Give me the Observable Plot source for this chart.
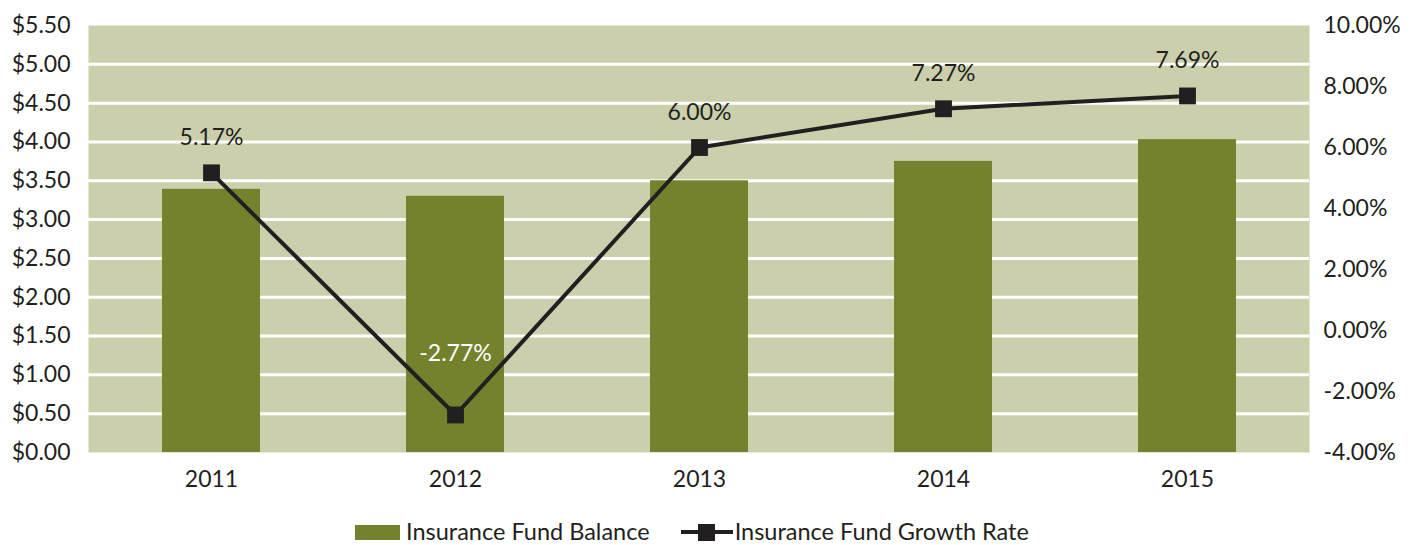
<!DOCTYPE html>
<html><head>
<meta charset="utf-8">
<script src="https://cdn.jsdelivr.net/npm/d3@7"></script>
<script src="https://cdn.jsdelivr.net/npm/@observablehq/plot@0.6"></script>
<style>
body{margin:0;background:#fff;font-family:Lato,"Open Sans",sans-serif;}
#chart svg{display:block;}
#legend{display:flex;align-items:center;height:26px;line-height:1;margin-top:27px;padding-left:355px;font-size:23.5px;color:#231F20;}
.sw{display:inline-block;}
</style>
</head><body>
<div id="chart"></div>
<div id="legend"></div>
<script>
const years = ["2011","2012","2013","2014","2015"];
const balance = [3.39, 3.30, 3.50, 3.75, 4.03];
const growth = [5.17, -2.77, 6.00, 7.27, 7.69];
const leftTicks = [0,0.5,1,1.5,2,2.5,3,3.5,4,4.5,5,5.5];
const gridTicks = [0.5,1,1.5,2,2.5,3,3.5,4,4.5,5];
const rightTicks = [-4,-2,0,2,4,6,8,10];
const seriesNames = ["Insurance Fund Balance","Insurance Fund Growth Rate"];

const pMin = -4, pMax = 10, yMax = 5.5;
const toY = p => (p - pMin) * yMax / (pMax - pMin);
const fromY = v => v * (pMax - pMin) / yMax + pMin;

const bars = years.map((y,i)=>({year:y, value:balance[i]}));
const pts = years.map((y,i)=>({year:y, rate:growth[i], yv:toY(growth[i])}));

const BG = "#CBCFAB", BAR = "#74812D", INK = "#231F20";
const FS = 23;

const chart = Plot.plot({
  width: 1417, height: 492,
  marginLeft: 88, marginRight: 108, marginTop: 25, marginBottom: 40,
  style: {fontFamily: "Lato, 'Open Sans', sans-serif", fontSize: FS + "px", color: INK, background: "#fff"},
  x: {domain: years, paddingInner: 0.6, paddingOuter: 0.3, label: null},
  y: {domain: [0, yMax], label: null},
  marks: [
    Plot.frame({fill: BG, stroke: null}),
    Plot.gridY(gridTicks, {stroke: "#fff", strokeOpacity: 1, strokeWidth: 3}),
    Plot.barY(bars, {x: "year", y: "value", fill: BAR}),
    Plot.axisY(leftTicks, {anchor: "left", tickSize: 0, tickPadding: 18, tickFormat: d => "$" + d.toFixed(2), fontSize: FS, label: null}),
    Plot.axisY(rightTicks.map(toY), {anchor: "right", tickSize: 0, tickPadding: 14, tickFormat: d => fromY(d).toFixed(2) + "%", fontSize: FS, label: null}),
    Plot.axisX({tickSize: 0, tickPadding: 18, fontSize: FS, label: null}),
    Plot.line(pts, {x: "year", y: "yv", stroke: INK, strokeWidth: 4}),
    Plot.dot(pts, {x: "year", y: "yv", symbol: "square", r: 9.5, fill: INK, stroke: null}),
    Plot.text(pts.filter(d => d.rate >= 0), {x: "year", y: "yv", text: d => d.rate.toFixed(2) + "%", dy: -35, fontSize: FS, fill: INK}),
    Plot.text(pts.filter(d => d.rate < 0), {x: "year", y: "yv", text: d => d.rate.toFixed(2) + "%", dy: -61, fontSize: FS, fill: "#fff"})
  ]
});
document.getElementById("chart").appendChild(chart);

const lg = document.getElementById("legend");
lg.innerHTML =
  `<span class="sw" style="width:45px;height:15px;background:${BAR};margin-right:6px"></span>` +
  `<span>${seriesNames[0]}</span>` +
  `<svg class="sw" width="52" height="18" style="margin-left:31px;margin-right:2px"><line x1="0" x2="52" y1="9" y2="9" stroke="${INK}" stroke-width="4"/><rect x="17" y="1" width="17" height="17" fill="${INK}"/></svg>` +
  `<span>${seriesNames[1]}</span>`;
</script>
</body></html>
